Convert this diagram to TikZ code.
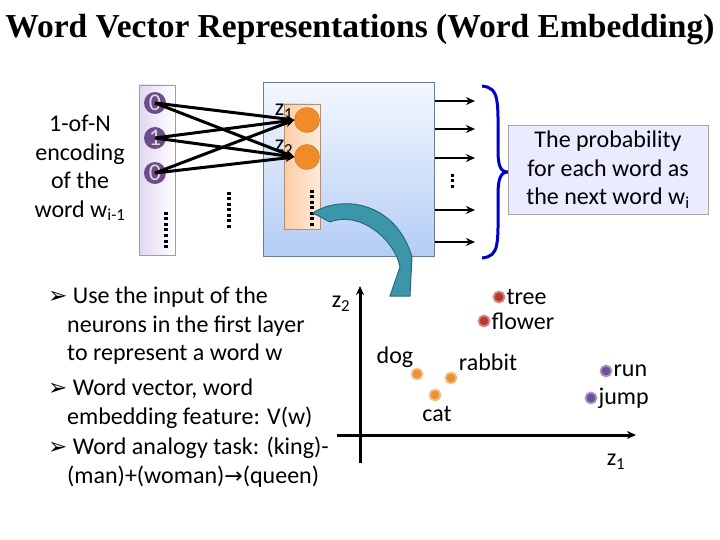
\documentclass[tikz,border=0pt]{standalone}
\usepackage{fontspec}
\setmainfont{Carlito}
\newfontfamily\titlefont{Liberation Serif}
\newfontfamily\symfont{DejaVu Sans}
\usetikzlibrary{positioning,calc,arrows.meta}
\newcommand{\bul}{{\symfont\fontsize{23}{23}\selectfont ➢}}
\definecolor{inpurple}{RGB}{110,75,140}
\definecolor{colpurple}{RGB}{225,215,240}
\definecolor{hidorange}{RGB}{240,140,40}
\definecolor{colorange}{RGB}{252,205,165}
\definecolor{boxblue}{RGB}{180,205,245}
\definecolor{bandteal}{RGB}{60,150,170}
\definecolor{ptred}{RGB}{185,55,45}
\definecolor{ptorange}{RGB}{235,145,50}
\definecolor{ptpurple}{RGB}{110,80,150}
\tikzset{
  inneuron/.style={circle,fill=inpurple,minimum size=22pt,inner sep=0pt,text=white!85!black,font=\fontsize{24}{24}\selectfont},
  hidneuron/.style={circle,fill=hidorange,draw=hidorange!80!black,minimum size=25pt,inner sep=0pt},
  to/.style={-{Stealth[length=9pt,width=8pt]},line width=3pt},
  outarrow/.style={-{Stealth[length=9pt,width=8pt]},line width=2.2pt},
  vdots/.style={line width=3.5pt,dash pattern=on 3pt off 2.5pt},
  pt/.style={circle,minimum size=11pt,inner sep=0pt,line width=1.8pt},
  lbl/.style={font=\fontsize{24}{24}\selectfont,inner sep=1pt},
  txt/.style={font=\fontsize{24}{28.5}\selectfont,align=left,anchor=north west,inner sep=0pt}
}
\begin{document}
\begin{tikzpicture}[x=1pt,y=-1pt]
\useasboundingbox (0,0) rectangle (720,540);
% title
\node (title) at (360,30) {\titlefont\bfseries\fontsize{33.5}{33.5}\selectfont Word Vector Representations (Word Embedding)};
% input column
\draw[inpurple!60,left color=colpurple,right color=white] (139,85) rectangle (175,255);
\node (x1) [inneuron] at (155,103) {0};
\node (x2) [inneuron] at (155,138) {1};
\node (x3) [inneuron] at (155,173) {0};
\draw[vdots] (166,212) -- (166,250);
\draw[vdots] (229,192) -- (229,230);
\node (enc) [font=\fontsize{24}{28.5}\selectfont,align=center] at (80,168) {1-of-N\\encoding\\of the\\word w\textsubscript{i-1}};
% hidden layer box
\draw[boxblue!60!black,top color=white!85!boxblue,bottom color=boxblue] (263,82) rectangle (434,256);
\draw[colorange!70!black,left color=colorange,right color=colorange!40] (284,104) rectangle (320,229);
\node (h1) [hidneuron] at (307,120) {};
\node (h2) [hidneuron] at (307,157) {};
\node at (284,112) {\fontsize{24}{24}\selectfont z\textsubscript{1}};
\node at (284,148) {\fontsize{24}{24}\selectfont z\textsubscript{2}};
\draw[vdots] (312,190) -- (312,228);
\foreach \i in {x1,x2,x3}
  \foreach \j in {h1,h2}
    \draw[to] (\i.center) -- (\j.west);
% teal band
\draw[bandteal!70!black,fill=bandteal,line width=1pt] (313,213) .. controls (340,195) and (395,200) .. (412,257) -- (410,296) -- (390,296) -- (400,267) .. controls (395,240) and (360,210) .. (330,222) -- cycle;
% outputs
\foreach \y [count=\k] in {101,129,158,210,242} {
  \coordinate (o\k) at (435,\y);
  \coordinate (p\k) at (475,\y);
  \draw[outarrow] (o\k) -- (p\k);
}
\draw[vdots,line width=3pt] (452,174) -- (452,190);
\draw[blue!80!black,line width=3pt] (482,86) .. controls (500,88) and (498,100) .. (498,150) .. controls (498,165) and (500,172) .. (508,172) .. controls (500,172) and (498,180) .. (498,195) .. controls (498,245) and (500,256) .. (482,258);
\node (prob) [draw=gray!70,fill=blue!8,minimum width=200pt,minimum height=89pt,font=\fontsize{24}{28.5}\selectfont,align=center,inner sep=0pt] at (608,170) {The probability\\for each word as\\the next word w\textsubscript{i}};
% bullets
\node (b1) [txt] at (48,287) {\bul{} Use the input of the\\\hspace*{19pt}neurons in the first layer\\\hspace*{19pt}to represent a word w};
\node (b2) [txt] at (48,379) {\bul{} Word vector, word\\\hspace*{19pt}embedding feature: V(w)};
\node (b3) [txt] at (48,437) {\bul{} Word analogy task: (king)-\\\hspace*{19pt}(man)+(woman){\symfont\fontsize{22}{22}\selectfont →}(queen)};
% embedding plane
\coordinate (ybot) at (360,463);
\coordinate (ytop) at (360,286);
\coordinate (xl) at (337,435);
\coordinate (xr) at (636,435);
\draw[to] (ybot) -- (ytop);
\draw[to] (xl) -- (xr);
\node (z2) [lbl] at (341,304) {z\textsubscript{2}};
\node (z1) [lbl] at (616,462) {z\textsubscript{1}};
\node (tree) [pt,fill=ptred,draw=ptred!60] at (499,297) {};
\node (flower) [pt,fill=ptred,draw=ptred!60] at (484,321) {};
\node (dog) [pt,fill=ptorange,draw=ptorange!60] at (417,374) {};
\node (rabbit) [pt,fill=ptorange,draw=ptorange!60] at (451,378) {};
\node (cat) [pt,fill=ptorange,draw=ptorange!60] at (435,395) {};
\node (run) [pt,fill=ptpurple,draw=ptpurple!60] at (606,371) {};
\node (jump) [pt,fill=ptpurple,draw=ptpurple!60] at (591,398) {};
\node [lbl,right=0pt of tree] {tree};
\node [lbl,right=0pt of flower] {flower};
\node [lbl] at (395,357) {dog};
\node [lbl] at (488,362) {rabbit};
\node [lbl] at (437,414) {cat};
\node [lbl,right=0pt of run] {run};
\node [lbl,right=0pt of jump] {jump};
\end{tikzpicture}
\end{document}
